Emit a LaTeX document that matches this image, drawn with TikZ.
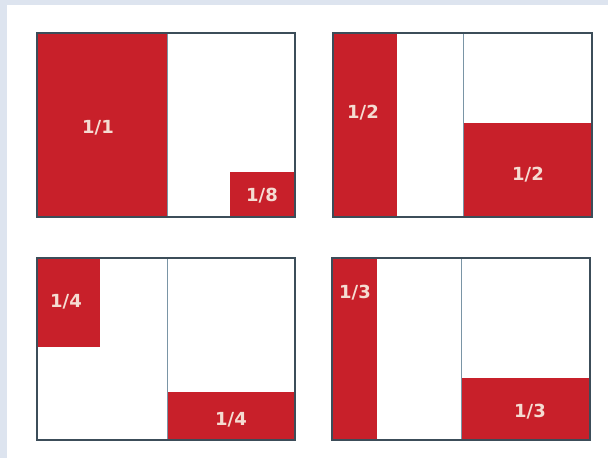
\documentclass[tikz,border=0pt]{standalone}
\usepackage{fontspec}
\newfontfamily\labelfont{DejaVu Sans}
\usetikzlibrary{positioning}
\definecolor{Frame}{HTML}{3C4D59}
\definecolor{Split}{HTML}{7A95A6}
\definecolor{Brick}{HTML}{C8202A}
\definecolor{PaleBg}{HTML}{DDE4EF}
\definecolor{LabelInk}{HTML}{F5DCD2}

\begin{document}
\begin{tikzpicture}[
  x=1pt,y=-1pt,
  panel/.style={draw=Frame,line width=1.6pt},
  split/.style={draw=Split,line width=0.8pt},
  block/.style={fill=Brick},
  frac/.style={font=\labelfont\bfseries\fontsize{18}{20}\selectfont,text=LabelInk,inner sep=0pt}
]
\useasboundingbox (0,0) rectangle (608,458);
\fill[PaleBg] (0,0) rectangle (608,458);
\fill[white] (7,5) rectangle (608,458);
% top left
\fill[block] (37,33) rectangle (167,217);
\fill[block] (230,172) rectangle (295,217);
\draw[split] (167,33) -- (167,217);
\draw[panel] (37,33) rectangle (295,217);
\node[frac] (whole) at (98,128) {1/1};
\node[frac] (eighth) at (262,196) {1/8};
% top right
\fill[block] (333,33) rectangle (397,217);
\fill[block] (463,123) rectangle (592,217);
\draw[split] (463,33) -- (463,217);
\draw[panel] (333,33) rectangle (592,217);
\node[frac] (halfA) at (363,113) {1/2};
\node[frac] (halfB) at (528,175) {1/2};
% bottom left
\fill[block] (37,258) rectangle (100,347);
\fill[block] (167,392) rectangle (295,440);
\draw[split] (167,258) -- (167,440);
\draw[panel] (37,258) rectangle (295,440);
\node[frac] (quarterA) at (66,302) {1/4};
\node[frac] (quarterB) at (231,420) {1/4};
% bottom right
\fill[block] (332,258) rectangle (377,440);
\fill[block] (461,378) rectangle (590,440);
\draw[split] (461,258) -- (461,440);
\draw[panel] (332,258) rectangle (590,440);
\node[frac] (thirdA) at (355,293) {1/3};
\node[frac] (thirdB) at (530,412) {1/3};
\end{tikzpicture}
\end{document}
